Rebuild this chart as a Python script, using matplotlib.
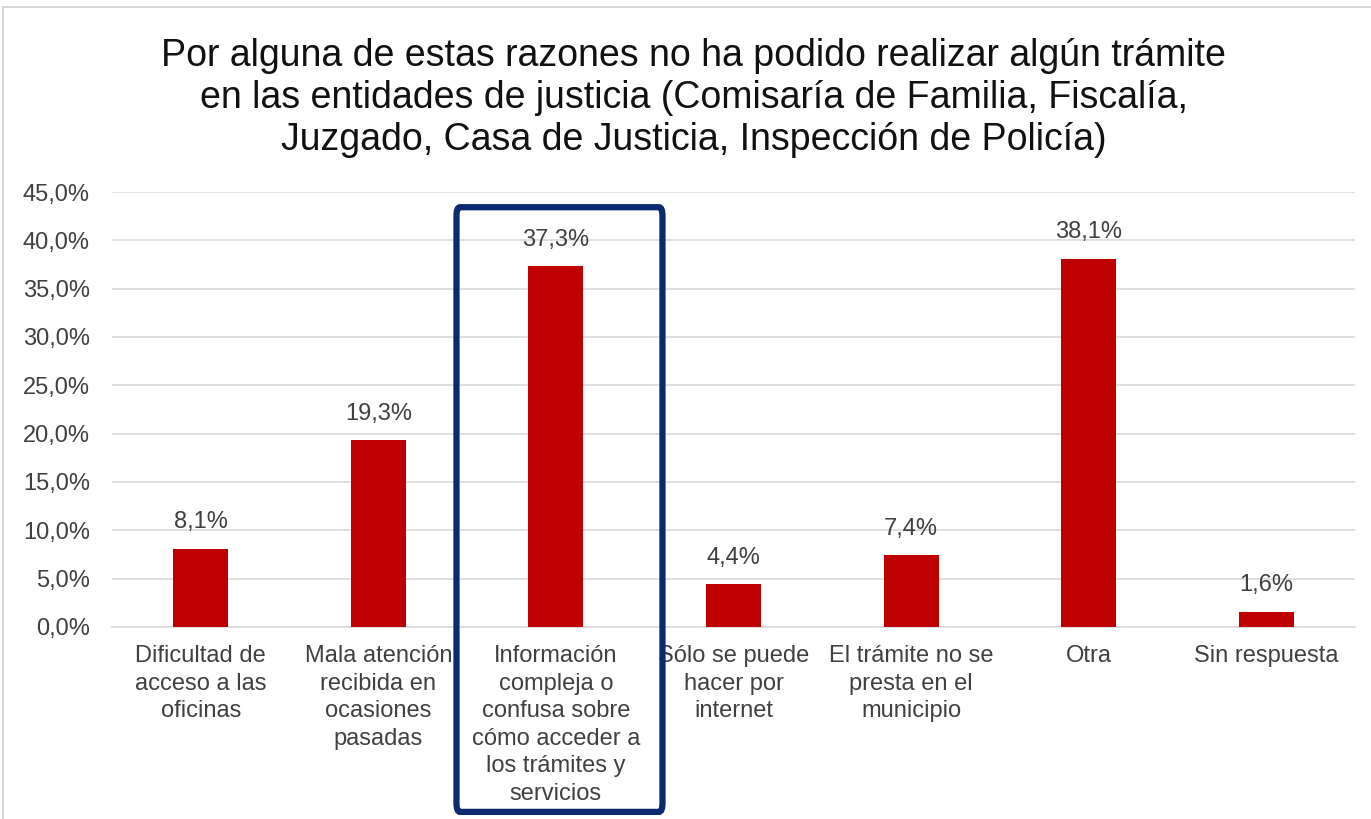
import matplotlib
matplotlib.use("Agg")
import matplotlib.pyplot as plt
from matplotlib.patches import FancyBboxPatch, Rectangle
from matplotlib.transforms import blended_transform_factory
from matplotlib.ticker import FuncFormatter

plt.rcParams['font.family'] = ['Liberation Sans', 'DejaVu Sans']

categories = [
    "Dificultad de\nacceso a las\noficinas",
    "Mala atención\nrecibida en\nocasiones\npasadas",
    "Información\ncompleja o\nconfusa sobre\ncómo acceder a\nlos trámites y\nservicios",
    "Sólo se puede\nhacer por\ninternet",
    "El trámite no se\npresta en el\nmunicipio",
    "Otra",
    "Sin respuesta",
]
values = [8.1, 19.3, 37.3, 4.4, 7.4, 38.1, 1.6]
yticks = [0, 5, 10, 15, 20, 25, 30, 35, 40, 45]
highlight_index = 2
title = ("Por alguna de estas razones no ha podido realizar algún trámite\n"
         "en las entidades de justicia (Comisaría de Familia, Fiscalía,\n"
         "Juzgado, Casa de Justicia, Inspección de Policía)")

bar_color = "#c00000"
text_color = "#404040"

fig = plt.figure(figsize=(13.71, 8.19), dpi=100)
ax = fig.add_axes([112/1371, 1-627/819, (1355-112)/1371, (627-192)/819])

x = list(range(len(values)))
ax.bar(x, values, width=0.31, color=bar_color, zorder=3)
ax.set_xlim(-0.5, len(values) - 0.5)
ax.set_ylim(0, 45)
ax.set_yticks(yticks)
ax.yaxis.set_major_formatter(FuncFormatter(lambda v, p: f"{v:.1f}%".replace(".", ",")))
ax.grid(axis='y', color="#d9d9d9", linewidth=1.2, zorder=0)
for s in ["top", "right", "left"]:
    ax.spines[s].set_visible(False)
ax.spines["bottom"].set_color("#d9d9d9")
ax.spines["bottom"].set_linewidth(1.2)
ax.tick_params(axis='y', length=0, labelsize=17, labelcolor=text_color, pad=16)
ax.tick_params(axis='x', length=0, labelsize=17, labelcolor=text_color, pad=13)
ax.set_xticks(x)
ax.set_xticklabels(categories, linespacing=1.33, va='top')

for xi, v in zip(x, values):
    ax.annotate(f"{v:.1f}%".replace(".", ","), (xi, v), xytext=(0, 11),
                textcoords="offset points", ha="center", va="bottom",
                fontsize=17, color=text_color)

fig.text(0.506, 0.953, title, ha="center", va="top", fontsize=27,
         color="#111111", linespacing=1.2)

# highlight box around the third category
trans = blended_transform_factory(ax.transData, ax.transAxes)
box = FancyBboxPatch((highlight_index - 0.56, -0.425), 1.16, 1.39,
                     boxstyle="round,pad=0,rounding_size=0.02",
                     transform=trans, fill=False, edgecolor="#0b2a6f",
                     linewidth=4.5, clip_on=False, zorder=5)
ax.add_patch(box)

# outer chart border
fig.patches.append(Rectangle((3/1371, -0.01), 1.1, 1 - 7/819 + 0.01,
                             transform=fig.transFigure, fill=False,
                             edgecolor="#d0d0d0", linewidth=1.2))

fig.savefig("out.png", dpi=100, facecolor="white")
